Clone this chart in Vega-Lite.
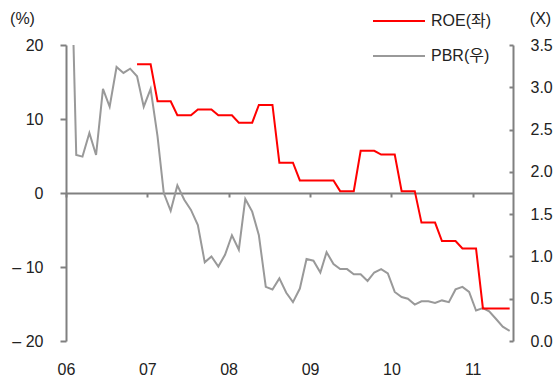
{
  "$schema": "https://vega.github.io/schema/vega-lite/v6.json",
  "width": 447,
  "height": 296,
  "autosize": {"type": "none"},
  "padding": {"left": 66, "top": 45, "right": 40, "bottom": 40},
  "background": "white",
  "config": {
    "font": "Liberation Sans, Noto Sans CJK KR, sans-serif",
    "view": {"stroke": null},
    "axis": {
      "grid": false,
      "domainColor": "#808080",
      "domainWidth": 2,
      "tickColor": "#808080",
      "tickWidth": 2,
      "labelColor": "#222222",
      "labelFontSize": 16,
      "titleColor": "#222222",
      "titleFontSize": 16,
      "titleFontWeight": "normal"
    }
  },
  "data": {
    "values": [
      {"date": "2006-01-16", "roe": null, "pbr": 5.5},
      {"date": "2006-02-16", "roe": null, "pbr": 2.2},
      {"date": "2006-03-16", "roe": null, "pbr": 2.18},
      {"date": "2006-04-16", "roe": null, "pbr": 2.46},
      {"date": "2006-05-16", "roe": null, "pbr": 2.2},
      {"date": "2006-06-16", "roe": null, "pbr": 2.98},
      {"date": "2006-07-16", "roe": null, "pbr": 2.77},
      {"date": "2006-08-16", "roe": null, "pbr": 3.24},
      {"date": "2006-09-16", "roe": null, "pbr": 3.17},
      {"date": "2006-10-16", "roe": null, "pbr": 3.22},
      {"date": "2006-11-16", "roe": 17.4, "pbr": 3.13},
      {"date": "2006-12-16", "roe": 17.4, "pbr": 2.77},
      {"date": "2007-01-16", "roe": 17.4, "pbr": 2.98},
      {"date": "2007-02-16", "roe": 12.4, "pbr": 2.42},
      {"date": "2007-03-16", "roe": 12.4, "pbr": 1.75},
      {"date": "2007-04-16", "roe": 12.4, "pbr": 1.54},
      {"date": "2007-05-16", "roe": 10.5, "pbr": 1.84},
      {"date": "2007-06-16", "roe": 10.5, "pbr": 1.67},
      {"date": "2007-07-16", "roe": 10.5, "pbr": 1.55},
      {"date": "2007-08-16", "roe": 11.3, "pbr": 1.37},
      {"date": "2007-09-16", "roe": 11.3, "pbr": 0.93},
      {"date": "2007-10-16", "roe": 11.3, "pbr": 1.0},
      {"date": "2007-11-16", "roe": 10.5, "pbr": 0.88},
      {"date": "2007-12-16", "roe": 10.5, "pbr": 1.02},
      {"date": "2008-01-16", "roe": 10.5, "pbr": 1.25},
      {"date": "2008-02-16", "roe": 9.5, "pbr": 1.08},
      {"date": "2008-03-16", "roe": 9.5, "pbr": 1.68},
      {"date": "2008-04-16", "roe": 9.5, "pbr": 1.53},
      {"date": "2008-05-16", "roe": 11.9, "pbr": 1.25},
      {"date": "2008-06-16", "roe": 11.9, "pbr": 0.64},
      {"date": "2008-07-16", "roe": 11.9, "pbr": 0.61},
      {"date": "2008-08-16", "roe": 4.1, "pbr": 0.74},
      {"date": "2008-09-16", "roe": 4.1, "pbr": 0.57},
      {"date": "2008-10-16", "roe": 4.1, "pbr": 0.46},
      {"date": "2008-11-16", "roe": 1.7, "pbr": 0.62},
      {"date": "2008-12-16", "roe": 1.7, "pbr": 0.97},
      {"date": "2009-01-16", "roe": 1.7, "pbr": 0.95},
      {"date": "2009-02-16", "roe": 1.7, "pbr": 0.81},
      {"date": "2009-03-16", "roe": 1.7, "pbr": 1.05},
      {"date": "2009-04-16", "roe": 1.7, "pbr": 0.91},
      {"date": "2009-05-16", "roe": 0.25, "pbr": 0.85},
      {"date": "2009-06-16", "roe": 0.25, "pbr": 0.85},
      {"date": "2009-07-16", "roe": 0.25, "pbr": 0.79},
      {"date": "2009-08-16", "roe": 5.7, "pbr": 0.79},
      {"date": "2009-09-16", "roe": 5.7, "pbr": 0.71},
      {"date": "2009-10-16", "roe": 5.7, "pbr": 0.81},
      {"date": "2009-11-16", "roe": 5.2, "pbr": 0.85},
      {"date": "2009-12-16", "roe": 5.2, "pbr": 0.8},
      {"date": "2010-01-16", "roe": 5.2, "pbr": 0.58},
      {"date": "2010-02-16", "roe": 0.25, "pbr": 0.52},
      {"date": "2010-03-16", "roe": 0.25, "pbr": 0.5},
      {"date": "2010-04-16", "roe": 0.25, "pbr": 0.43},
      {"date": "2010-05-16", "roe": -4.0, "pbr": 0.47},
      {"date": "2010-06-16", "roe": -4.0, "pbr": 0.47},
      {"date": "2010-07-16", "roe": -4.0, "pbr": 0.45},
      {"date": "2010-08-16", "roe": -6.5, "pbr": 0.48},
      {"date": "2010-09-16", "roe": -6.5, "pbr": 0.46},
      {"date": "2010-10-16", "roe": -6.5, "pbr": 0.61},
      {"date": "2010-11-16", "roe": -7.5, "pbr": 0.64},
      {"date": "2010-12-16", "roe": -7.5, "pbr": 0.58},
      {"date": "2011-01-16", "roe": -7.5, "pbr": 0.36},
      {"date": "2011-02-16", "roe": -15.6, "pbr": 0.39},
      {"date": "2011-03-16", "roe": -15.6, "pbr": 0.35},
      {"date": "2011-04-16", "roe": -15.6, "pbr": 0.26},
      {"date": "2011-05-16", "roe": -15.6, "pbr": 0.17},
      {"date": "2011-06-16", "roe": -15.6, "pbr": 0.12}
    ]
  },
  "encoding": {
    "x": {
      "field": "date",
      "type": "temporal",
      "scale": {
        "type": "utc",
        "domain": [
          {"year": 2006, "month": 1, "date": 1, "utc": true},
          {"year": 2011, "month": 7, "date": 1, "utc": true}
        ]
      },
      "axis": {
        "title": null,
        "offset": -148,
        "values": [
          {"year": 2006, "month": 1, "date": 1, "utc": true},
          {"year": 2007, "month": 1, "date": 1, "utc": true},
          {"year": 2008, "month": 1, "date": 1, "utc": true},
          {"year": 2009, "month": 1, "date": 1, "utc": true},
          {"year": 2010, "month": 1, "date": 1, "utc": true},
          {"year": 2011, "month": 1, "date": 1, "utc": true}
        ],
        "format": "%y",
        "tickSize": 4,
        "labelPadding": 164,
        "labelDx": 3,
        "labelFlush": false,
        "labelOverlap": false
      }
    }
  },
  "layer": [
    {
      "mark": {"type": "line", "strokeWidth": 2, "clip": true},
      "encoding": {
        "y": {
          "field": "pbr",
          "type": "quantitative",
          "scale": {"domain": [0, 3.5], "nice": false, "zero": false},
          "axis": {
            "orient": "right",
            "values": [0, 0.5, 1, 1.5, 2, 2.5, 3, 3.5],
            "format": ".1f",
            "tickSize": -4,
            "labelPadding": 21,
            "title": "(X)",
            "titleAngle": 0,
            "titleAlign": "center",
            "titleBaseline": "middle",
            "titleX": 27,
            "titleY": -27
          }
        },
        "color": {"datum": "PBR(우)", "type": "nominal"}
      }
    },
    {
      "mark": {"type": "line", "strokeWidth": 2, "clip": true},
      "encoding": {
        "y": {
          "field": "roe",
          "type": "quantitative",
          "scale": {"domain": [-20, 20], "nice": false},
          "axis": {
            "orient": "left",
            "values": [-20, -10, 0, 10, 20],
            "labelExpr": "datum.value < 0 ? '– ' + abs(datum.value) : datum.value",
            "tickSize": 6,
            "labelPadding": 17,
            "title": "(%)",
            "titleAngle": 0,
            "titleAlign": "center",
            "titleBaseline": "middle",
            "titleX": -44,
            "titleY": -27
          }
        },
        "color": {
          "datum": "ROE(좌)",
          "type": "nominal",
          "scale": {"domain": ["ROE(좌)", "PBR(우)"], "range": ["#ff0000", "#999999"]},
          "legend": {
            "orient": "none",
            "legendX": 306,
            "legendY": -51,
            "title": null,
            "symbolType": "stroke",
            "symbolSize": 2704,
            "symbolStrokeWidth": 2,
            "labelFontSize": 16,
            "labelColor": "#222222",
            "labelOffset": 5,
            "rowPadding": -1
          }
        }
      }
    }
  ],
  "resolve": {"scale": {"y": "independent"}}
}
